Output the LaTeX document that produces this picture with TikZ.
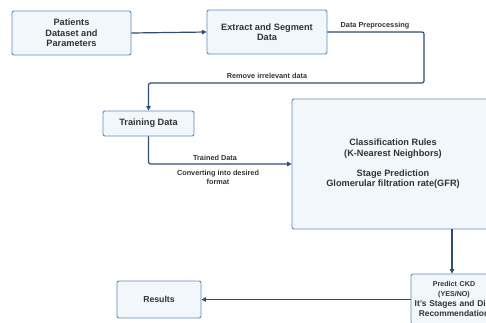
\documentclass[tikz,border=0pt]{standalone}
\usepackage{fontspec}
\setmainfont{Liberation Sans}
\usetikzlibrary{arrows.meta}
\definecolor{boxline}{HTML}{5B8DC0}
\definecolor{boxfill}{HTML}{F2F7FC}
\definecolor{connc}{HTML}{2E4D70}
\definecolor{txt}{HTML}{333333}
\begin{document}
\begin{tikzpicture}[x=1pt,y=-1pt,
 box/.style={draw=boxline, fill=boxfill, line width=0.9pt, rounded corners=2pt, text=txt,
   font=\bfseries\fontsize{9.2}{10.3}\selectfont, align=center, inner sep=0pt},
 conn/.style={draw=connc, line width=1.2pt, rounded corners=2pt, -{Triangle[length=4.5pt,width=4.5pt]}},
 lbl/.style={text=txt, font=\bfseries\fontsize{7.3}{9}\selectfont, align=center, inner sep=0pt}]
\useasboundingbox (0,0) rectangle (486,322);
\fill[white] (0,0) rectangle (486,322);
\node[box, minimum width=119, minimum height=44] (pat) at (71.5,33) {Patients\\Dataset and\\Parameters};
\node[box, minimum width=120, minimum height=44] (ext) at (267,32) {Extract and Segment\\Data};
\node[box, minimum width=91, minimum height=25] (train) at (148.5,123.5) {Training Data};
\node[box, minimum width=202, minimum height=130] (cls) at (393,164) {Classification Rules\\(K-Nearest Neighbors)\\[10pt]Stage Prediction\\Glomerular filtration rate(GFR)};
\node[box, minimum width=86, minimum height=50, text width=86, font=\bfseries\fontsize{8.4}{9.7}\selectfont] (pred) at (454,299)
  {{\fontsize{7.1}{9.5}\selectfont Predict CKD}\hspace*{12pt}\\{\fontsize{7.1}{9.5}\selectfont (YES/NO)}\hspace*{12pt}\\It's Stages and Diet\\Recommendation};
\node[box, minimum width=84, minimum height=37, font=\bfseries\fontsize{8.7}{10}\selectfont] (res) at (159,299.5) {Results};
\coordinate (c1) at (424,83);
\coordinate (pin) at ([xshift=-2pt]pred.north);
\draw[conn] (pat.east) -- (ext.west);
\draw[conn] (ext.east) -| (c1) -| (train.north);
\draw[conn] (train.south) |- (cls.west);
\draw[conn] (pin |- cls.south) -- (pin);
\draw[conn] (pred.west |- res.east) -- (res.east);
\node[lbl] (l1) at (375,26) {Data Preprocessing};
\node[lbl] (l2) at (267,76) {Remove irrelevant data};
\node[lbl] (l3) at (215,157.5) {Trained Data};
\node[lbl] (l4) at (218,177.5) {Converting into desired\\format};
\end{tikzpicture}
\end{document}
